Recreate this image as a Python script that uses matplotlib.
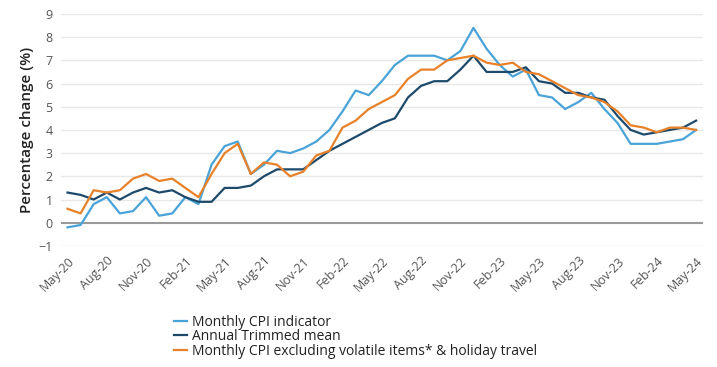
import matplotlib.pyplot as plt
import numpy as np

plt.rcParams['font.family'] = ['Open Sans', 'DejaVu Sans']

months = ['May-20', 'Jun-20', 'Jul-20', 'Aug-20', 'Sep-20', 'Oct-20', 'Nov-20', 'Dec-20',
          'Jan-21', 'Feb-21', 'Mar-21', 'Apr-21', 'May-21', 'Jun-21', 'Jul-21', 'Aug-21',
          'Sep-21', 'Oct-21', 'Nov-21', 'Dec-21', 'Jan-22', 'Feb-22', 'Mar-22', 'Apr-22',
          'May-22', 'Jun-22', 'Jul-22', 'Aug-22', 'Sep-22', 'Oct-22', 'Nov-22', 'Dec-22',
          'Jan-23', 'Feb-23', 'Mar-23', 'Apr-23', 'May-23', 'Jun-23', 'Jul-23', 'Aug-23',
          'Sep-23', 'Oct-23', 'Nov-23', 'Dec-23', 'Jan-24', 'Feb-24', 'Mar-24', 'Apr-24',
          'May-24']

# Monthly CPI indicator
cpi_monthly = [-0.2, -0.1, 0.8, 1.1, 0.4, 0.5, 1.1, 0.3, 0.4, 1.1, 0.8, 2.5, 3.3, 3.5,
               2.1, 2.5, 3.1, 3.0, 3.2, 3.5, 4.0, 4.8, 5.7, 5.5, 6.1, 6.8, 7.2, 7.2,
               7.2, 7.0, 7.4, 8.4, 7.5, 6.8, 6.3, 6.6, 5.5, 5.4, 4.9, 5.2, 5.6, 4.9,
               4.3, 3.4, 3.4, 3.4, 3.5, 3.6, 4.0]

# Annual trimmed mean
trimmed_mean = [1.3, 1.2, 1.0, 1.3, 1.0, 1.3, 1.5, 1.3, 1.4, 1.1, 0.9, 0.9, 1.5, 1.5,
                1.6, 2.0, 2.3, 2.3, 2.3, 2.7, 3.1, 3.4, 3.7, 4.0, 4.3, 4.5, 5.4, 5.9,
                6.1, 6.1, 6.6, 7.2, 6.5, 6.5, 6.5, 6.7, 6.1, 6.0, 5.6, 5.6, 5.4, 5.3,
                4.6, 4.0, 3.8, 3.9, 4.0, 4.1, 4.4]

# Monthly CPI excluding volatile items & holiday travel
cpi_ex_volatile = [0.6, 0.4, 1.4, 1.3, 1.4, 1.9, 2.1, 1.8, 1.9, 1.5, 1.1, 2.1, 3.0, 3.4,
                   2.1, 2.6, 2.5, 2.0, 2.2, 2.9, 3.1, 4.1, 4.4, 4.9, 5.2, 5.5, 6.2, 6.6,
                   6.6, 7.0, 7.1, 7.2, 6.9, 6.8, 6.9, 6.5, 6.4, 6.1, 5.8, 5.5, 5.4, 5.2,
                   4.8, 4.2, 4.1, 3.9, 4.1, 4.1, 4.0]

x = np.arange(len(months))

fig = plt.figure(figsize=(7.17, 3.67), dpi=100)
ax = fig.add_axes([0.085, 0.33, 0.895, 0.632])

for y in range(1, 10):
    ax.axhline(y, color='#e8e8e8', lw=1, zorder=0)
ax.axhline(0, color='#9a9a9a', lw=1.5, zorder=1)
ax.axhline(-1, color='#d6e2ef', lw=1, zorder=0)

ax.plot(x, cpi_monthly, color='#4aa3d8', lw=1.6, label='Monthly CPI indicator', zorder=3)
ax.plot(x, trimmed_mean, color='#1d4a6b', lw=1.6, label='Annual Trimmed mean', zorder=3)
ax.plot(x, cpi_ex_volatile, color='#e8822a', lw=1.6,
        label='Monthly CPI excluding volatile items* & holiday travel', zorder=3)

ax.set_xlim(-0.5, len(months) - 0.5)
ax.set_ylim(-1, 9)
ax.set_yticks(range(-1, 10))
ax.set_xticks(x[::3])
ax.set_xticklabels(months[::3], rotation=45, ha='right', rotation_mode='anchor')
ax.tick_params(axis='both', length=0, labelsize=9, colors='#555555', pad=6)
for s in ax.spines.values():
    s.set_visible(False)
ax.set_ylabel('Percentage change (%)', fontsize=11, color='#222222', labelpad=3,
              fontweight='semibold')

leg = fig.legend(loc='lower left', bbox_to_anchor=(0.235, 0.008), frameon=False, fontsize=10,
                 handlelength=0.9, handletextpad=0.4, labelspacing=-0.05, borderaxespad=0)
for t in leg.get_texts():
    t.set_color('#222222')
    t.set_fontweight('medium')

fig.savefig('out.png', dpi=100)
